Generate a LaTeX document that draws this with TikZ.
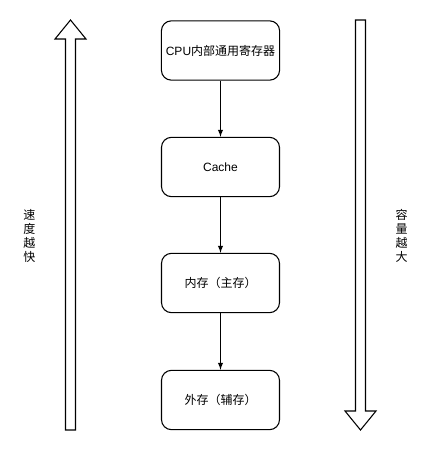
\documentclass[tikz,border=0pt]{standalone}
\usepackage{fontspec}
\setmainfont{Liberation Sans}
\newfontfamily\cjk{Noto Sans CJK SC}
\begin{document}
\begin{tikzpicture}[x=0.75pt,y=-0.75pt,
  box/.style={draw,rounded corners=7.5pt,minimum width=88.5pt,minimum height=44.5pt,font=\fontsize{9}{11}\selectfont,line width=0.8pt},
  conn/.style={-latex,line width=0.8pt},
  blockarrow/.style={draw,line width=0.8pt,fill=white},
  vlabel/.style={font=\cjk\fontsize{9}{10.5}\selectfont,align=center,inner sep=0pt}]
\useasboundingbox (0,0) rectangle (433,451);
\node[box] (b1) at (220.5,50.5) {CPU{\cjk 内部通用寄存器}};
\node[box] (b2) at (220.5,167) {Cache};
\node[box] (b3) at (220.5,283) {\cjk 内存（主存）};
\node[box] (b4) at (220.5,400) {\cjk 外存（辅存）};
\draw[conn] (b1) -- (b2);
\draw[conn] (b2) -- (b3);
\draw[conn] (b3) -- (b4);
\draw[blockarrow] (65.5,430) -- (65.5,39) -- (55,39) -- (70.5,20) -- (86,39) -- (75.5,39) -- (75.5,430) -- cycle;
\draw[blockarrow] (355.5,20) -- (355.5,411) -- (345,411) -- (360.5,430) -- (376,411) -- (365.5,411) -- (365.5,20) -- cycle;
\node[vlabel] (l) at (29.5,236) {速\\度\\越\\快};
\node[vlabel] (r) at (401.5,236) {容\\量\\越\\大};
\end{tikzpicture}
\end{document}
